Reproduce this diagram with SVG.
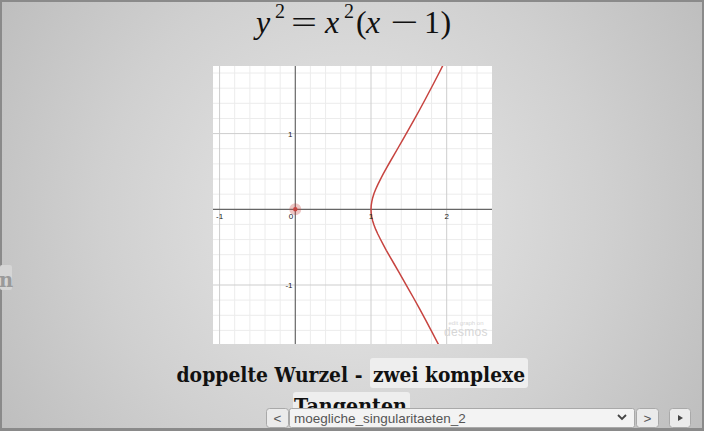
<svg xmlns="http://www.w3.org/2000/svg" width="704" height="431" viewBox="0 0 704 431">
<defs>
<radialGradient id="bg" cx="352" cy="215" r="420" gradientUnits="userSpaceOnUse">
<stop offset="0" stop-color="#e8e8e8"/>
<stop offset="0.6" stop-color="#d0d0d0"/>
<stop offset="1" stop-color="#bdbdbd"/>
</radialGradient>
<clipPath id="gclip"><rect x="213" y="66" width="279" height="278"/></clipPath>
<style>
.minor{stroke:#ececec;stroke-width:1}
.major{stroke:#cdcdcd;stroke-width:1}
.axis{stroke:#666;stroke-width:1.2}
.tick{font-family:"Liberation Sans",Arial,sans-serif;font-size:8px;fill:#222}
.math{font-family:"Liberation Serif","Times New Roman",serif;fill:#111}
.cap{font-family:"DejaVu Serif",serif;font-weight:bold;font-size:19.5px;fill:#111}
.btn{fill:#ebebeb;stroke:#a9a9a9;stroke-width:1}
.ui{font-family:"Liberation Sans",Arial,sans-serif;font-size:13.5px;fill:#555}
</style>
</defs>
<rect x="0" y="0" width="704" height="431" fill="#8a8a8a"/>
<rect x="2" y="2" width="700" height="426" fill="url(#bg)"/>

<g id="left-fragment">
<rect x="0" y="265" width="12" height="25" rx="2" fill="#d5d5d5"/>
<text x="-1" y="287" font-family="DejaVu Serif,serif" font-weight="bold" font-size="19.5" fill="#9a9a9a">n</text>
</g>

<g id="title">
<text class="math" font-style="italic" font-size="32" x="256" y="33">y</text>
<text class="math" font-size="20" x="275" y="18">2</text>
<text class="math" font-size="32" x="291" y="33" textLength="26" lengthAdjust="spacingAndGlyphs">=</text>
<text class="math" font-style="italic" font-size="32" x="325" y="33">x</text>
<text class="math" font-size="20" x="344" y="18">2</text>
<text class="math" font-size="32" x="356" y="33">(</text>
<text class="math" font-style="italic" font-size="32" x="366" y="33">x</text>
<text class="math" font-size="32" x="390" y="33" textLength="28" lengthAdjust="spacingAndGlyphs">−</text>
<text class="math" font-size="32" x="424" y="33">1</text>
<text class="math" font-size="32" x="440.5" y="33">)</text>
</g>

<g id="graph">
<rect x="213" y="66" width="279" height="278" fill="#ffffff"/>
<g clip-path="url(#gclip)">
<g class="minor">
<line x1="234.7" y1="66" x2="234.7" y2="344"/><line x1="249.9" y1="66" x2="249.9" y2="344"/><line x1="265" y1="66" x2="265" y2="344"/><line x1="280.2" y1="66" x2="280.2" y2="344"/>
<line x1="310.4" y1="66" x2="310.4" y2="344"/><line x1="325.6" y1="66" x2="325.6" y2="344"/><line x1="340.7" y1="66" x2="340.7" y2="344"/><line x1="355.9" y1="66" x2="355.9" y2="344"/>
<line x1="386.1" y1="66" x2="386.1" y2="344"/><line x1="401.3" y1="66" x2="401.3" y2="344"/><line x1="416.4" y1="66" x2="416.4" y2="344"/><line x1="431.6" y1="66" x2="431.6" y2="344"/>
<line x1="461.8" y1="66" x2="461.8" y2="344"/><line x1="477" y1="66" x2="477" y2="344"/>
<line x1="213" y1="73" x2="492" y2="73"/><line x1="213" y1="88.2" x2="492" y2="88.2"/><line x1="213" y1="103.3" x2="492" y2="103.3"/><line x1="213" y1="118.5" x2="492" y2="118.5"/>
<line x1="213" y1="148.7" x2="492" y2="148.7"/><line x1="213" y1="163.9" x2="492" y2="163.9"/><line x1="213" y1="179" x2="492" y2="179"/><line x1="213" y1="194.2" x2="492" y2="194.2"/>
<line x1="213" y1="224.4" x2="492" y2="224.4"/><line x1="213" y1="239.6" x2="492" y2="239.6"/><line x1="213" y1="254.7" x2="492" y2="254.7"/><line x1="213" y1="269.9" x2="492" y2="269.9"/>
<line x1="213" y1="300.1" x2="492" y2="300.1"/><line x1="213" y1="315.3" x2="492" y2="315.3"/><line x1="213" y1="330.4" x2="492" y2="330.4"/>
</g>
<g class="major">
<line x1="219.6" y1="66" x2="219.6" y2="344"/><line x1="371" y1="66" x2="371" y2="344"/><line x1="446.7" y1="66" x2="446.7" y2="344"/>
<line x1="213" y1="133.6" x2="492" y2="133.6"/><line x1="213" y1="285" x2="492" y2="285"/>
</g>
<g class="axis">
<line x1="295.3" y1="66" x2="295.3" y2="344"/>
<line x1="213" y1="209.3" x2="492" y2="209.3"/>
</g>
<polyline fill="none" stroke="#c74440" stroke-width="1.5" stroke-linejoin="round" points="446.7,57.9 439.3,72.5 432.3,86 425.7,98.5 419.5,110 413.6,120.6 408.1,130.3 403,139.3 398.3,147.5 393.9,155.1 389.9,162 386.3,168.3 383.1,174.2 380.3,179.6 377.8,184.6 375.7,189.2 374,193.6 372.7,197.7 371.8,201.7 371.2,205.5 371,209.3 371.2,213.1 371.8,216.9 372.7,220.9 374,225 375.7,229.4 377.8,234 380.3,239 383.1,244.4 386.3,250.3 389.9,256.6 393.9,263.5 398.3,271.1 403,279.3 408.1,288.3 413.6,298 419.5,308.6 425.7,320.1 432.3,332.6 439.3,346.1 446.7,360.7"/>
</g>
<circle cx="295.3" cy="209.3" r="6" fill="#c74440" fill-opacity="0.3"/>
<circle cx="295.3" cy="209.3" r="2.2" fill="#c74440"/>
<text class="tick" x="219.6" y="219" text-anchor="middle">-1</text>
<text class="tick" x="291" y="219" text-anchor="middle">0</text>
<text class="tick" x="371" y="219" text-anchor="middle">1</text>
<text class="tick" x="446.7" y="219" text-anchor="middle">2</text>
<text class="tick" x="292.5" y="136.5" text-anchor="end">1</text>
<text class="tick" x="292.5" y="288" text-anchor="end">-1</text>
<text x="466" y="325" text-anchor="middle" font-family="Liberation Sans,Arial,sans-serif" font-size="6" fill="#d6d6d6">edit graph on</text>
<text x="466" y="336" text-anchor="middle" font-family="Liberation Sans,Arial,sans-serif" font-size="12" fill="#d6d6d6" letter-spacing="0.3">desmos</text>
</g>

<g id="caption">
<rect x="370" y="358" width="158" height="30" rx="3" fill="#eeeeee"/>
<rect x="293" y="392" width="117" height="30" rx="3" fill="#eeeeee"/>
<text class="cap" x="176.5" y="382" textLength="186" lengthAdjust="spacingAndGlyphs">doppelte Wurzel -</text>
<text class="cap" x="373" y="382" textLength="152" lengthAdjust="spacingAndGlyphs">zwei komplexe</text>
<text class="cap" x="294" y="413" textLength="113" lengthAdjust="spacingAndGlyphs">Tangenten</text>
</g>

<g id="controls">
<rect class="btn" x="266.5" y="408.5" width="22" height="19" rx="3"/>
<text class="ui" x="277.5" y="422.5" text-anchor="middle">&lt;</text>
<rect x="289.5" y="408.5" width="345" height="19" rx="2" fill="#f3f3f3" stroke="#a9a9a9"/>
<text class="ui" x="294" y="422.5">moegliche_singularitaeten_2</text>
<polyline points="618,415 622,419 626,415" fill="none" stroke="#444" stroke-width="1.8"/>
<rect class="btn" x="636.5" y="408.5" width="22" height="19" rx="3"/>
<text class="ui" x="647.5" y="422.5" text-anchor="middle">&gt;</text>
<rect class="btn" x="669.5" y="408.5" width="21" height="19" rx="3"/>
<polygon points="678,415 683,418 678,421" fill="#444"/>
</g>
</svg>
